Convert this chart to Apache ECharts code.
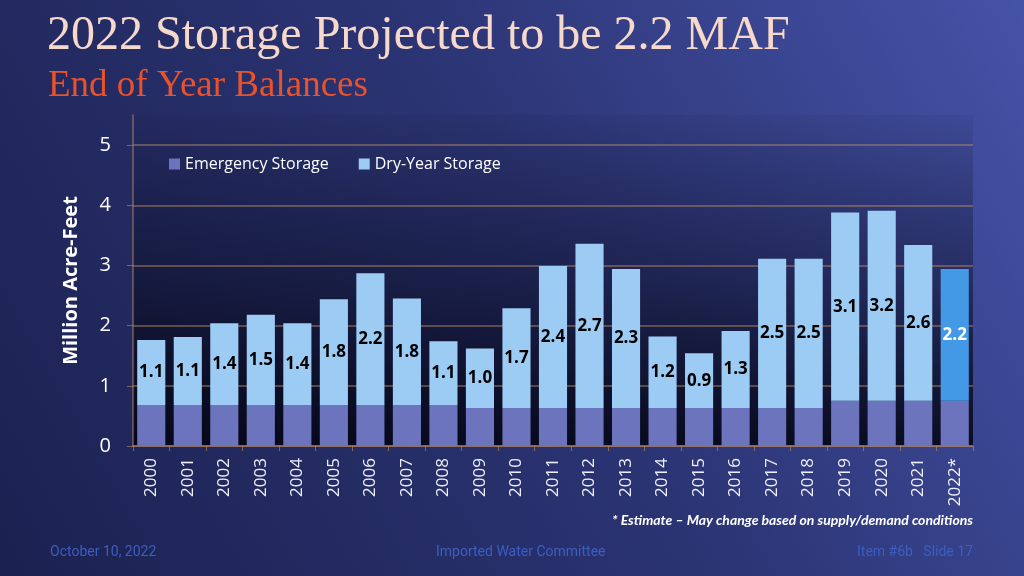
<!DOCTYPE html>
<html>
<head>
<meta charset="utf-8">
<title>2022 Storage Projected to be 2.2 MAF</title>
<script src="https://cdn.jsdelivr.net/npm/echarts@6/dist/echarts.min.js"></script>
<style>
	html, body { margin: 0; padding: 0; }
	#chart { width: 1024px; height: 576px; }
</style>
</head>
<body>
<div id="chart"></div>
<script>
// 数据
var years = ['2000', '2001', '2002', '2003', '2004', '2005', '2006', '2007', '2008', '2009', '2010',
	'2011', '2012', '2013', '2014', '2015', '2016', '2017', '2018', '2019', '2020', '2021', '2022*'];
var emergencyStorage = [0.68, 0.68, 0.68, 0.68, 0.68, 0.68, 0.68, 0.68, 0.68, 0.63, 0.63,
	0.63, 0.63, 0.63, 0.63, 0.63, 0.63, 0.63, 0.63, 0.75, 0.75, 0.75, 0.75];
var dryYearStorage = [1.08, 1.13, 1.36, 1.50, 1.36, 1.76, 2.19, 1.77, 1.06, 0.99, 1.66,
	2.36, 2.73, 2.31, 1.19, 0.91, 1.28, 2.48, 2.48, 3.13, 3.16, 2.59, 2.19];
var yTicks = [0, 1, 2, 3, 4, 5];

var lineColor = 'rgba(190,140,100,0.6)';
var estimateIndex = years.length - 1;

// 2022 是预估值，单独着色
var dryData = dryYearStorage.map(function(v, i) {
	if (i === estimateIndex) {
		return {
			value: v,
			itemStyle: { color: '#4499e6' },
			label: { color: '#ffffff' }
		};
	}
	return v;
});

var myChart = echarts.init(document.getElementById('chart'));
var option = {
	backgroundColor: {
		type: 'linear', x: 0, y: 1, x2: 1, y2: 0,
		colorStops: [
			{ offset: 0, color: '#1b2150' },
			{ offset: 0.55, color: '#2c3575' },
			{ offset: 1, color: '#4553a8' }
		]
	},
	textStyle: { fontFamily: 'Open Sans' },
	graphic: [
		{
			type: 'text', left: 47, top: 12,
			style: { text: '2022 Storage Projected to be 2.2 MAF', font: '48px "Liberation Serif"', fill: '#f7d9cc' }
		},
		{
			type: 'text', left: 48, top: 68,
			style: { text: 'End of Year Balances', font: '37px "Liberation Serif"', fill: '#e9522b' }
		},
		{
			type: 'text', right: 51, top: 513,
			style: { text: '* Estimate \u2013 May change based on supply/demand conditions', font: 'italic bold 14px Lato', fill: '#ffffff' }
		},
		{
			type: 'text', left: 50, top: 545,
			style: { text: 'October 10, 2022', font: '14px Roboto', fill: '#3b5ec2' }
		},
		{
			type: 'text', left: 436, top: 545,
			style: { text: 'Imported Water Committee', font: '14px Roboto', fill: '#3b5ec2' }
		},
		{
			type: 'text', right: 51, top: 545,
			style: { text: 'Item #6b   Slide 17', font: '14px Roboto', fill: '#3b5ec2' }
		}
	],
	legend: {
		left: 164,
		top: 151,
		itemWidth: 11,
		itemHeight: 11,
		itemGap: 30,
		icon: 'rect',
		textStyle: { color: '#ffffff', fontSize: 16, fontFamily: 'Open Sans' },
		data: ['Emergency Storage', 'Dry-Year Storage']
	},
	grid: {
		left: 133,
		right: 51,
		top: 115,
		bottom: 130,
		show: true,
		borderWidth: 0,
		// 绘图区渐变底色
		backgroundColor: {
			type: 'linear', x: 0, y: 0, x2: 0, y2: 1,
			colorStops: [
				{ offset: 0, color: 'rgba(0,0,10,0.05)' },
				{ offset: 0.5, color: 'rgba(0,0,10,0.38)' },
				{ offset: 1, color: 'rgba(0,0,10,0.82)' }
			]
		}
	},
	xAxis: {
		type: 'category',
		data: years,
		axisLine: { lineStyle: { color: lineColor, width: 1.5 } },
		axisTick: { show: true, length: 5, lineStyle: { color: lineColor } },
		axisLabel: {
			rotate: 90,
			margin: 12,
			color: '#eeeef6',
			fontSize: 17,
			fontFamily: 'Open Sans'
		}
	},
	yAxis: {
		type: 'value',
		min: yTicks[0],
		max: 5.5,
		interval: 1,
		name: 'Million Acre-Feet',
		nameLocation: 'middle',
		nameGap: 52,
		nameTextStyle: { color: '#ffffff', fontSize: 20, fontWeight: 'bold', fontFamily: 'Open Sans' },
		axisLine: { show: true, lineStyle: { color: lineColor, width: 1.5 } },
		axisTick: { show: true, length: 6, lineStyle: { color: lineColor } },
		axisLabel: {
			color: '#ffffff',
			fontSize: 20,
			margin: 22,
			showMaxLabel: false,
			fontFamily: 'Open Sans'
		},
		splitLine: { show: true, showMaxLine: false, lineStyle: { color: lineColor, width: 1.5 } }
	},
	series: [
		{
			name: 'Emergency Storage',
			type: 'bar',
			stack: 'total',
			barCategoryGap: '23%',
			itemStyle: { color: '#6c74bd' },
			data: emergencyStorage
		},
		{
			name: 'Dry-Year Storage',
			type: 'bar',
			stack: 'total',
			barCategoryGap: '23%',
			itemStyle: { color: '#9ccbf4' },
			label: {
				show: true,
				position: 'inside',
				color: '#000000',
				fontSize: 17,
				fontWeight: 'bold',
				fontFamily: 'Open Sans',
				formatter: function(params) {
					return params.value.toFixed(1);
				}
			},
			data: dryData
		}
	]
};
myChart.setOption(option);
</script>
</body>
</html>
